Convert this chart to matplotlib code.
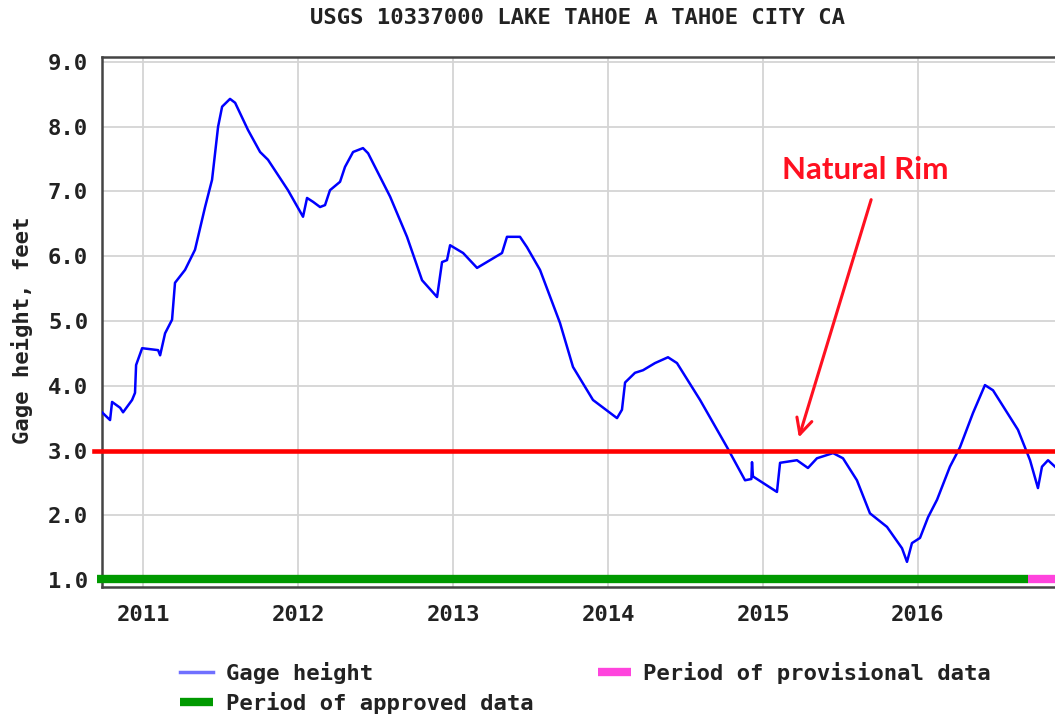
import numpy as np
import matplotlib.pyplot as plt
from matplotlib.lines import Line2D

# gage height, decimal year vs feet
years = [2010.735, 2010.787, 2010.800, 2010.852, 2010.871, 2010.929, 2010.948,
         2010.955, 2010.994, 2011.097, 2011.110, 2011.142, 2011.187, 2011.206,
         2011.271, 2011.335, 2011.400, 2011.445, 2011.484, 2011.510, 2011.561,
         2011.594, 2011.677, 2011.755, 2011.806, 2011.935, 2012.032, 2012.058,
         2012.097, 2012.142, 2012.174, 2012.206, 2012.271, 2012.303, 2012.355,
         2012.419, 2012.452, 2012.594, 2012.703, 2012.800, 2012.897, 2012.929,
         2012.961, 2012.981, 2013.065, 2013.155, 2013.239, 2013.316, 2013.348,
         2013.432, 2013.477, 2013.561, 2013.690, 2013.774, 2013.903, 2014.058,
         2014.090, 2014.110, 2014.174, 2014.226, 2014.303, 2014.387, 2014.445,
         2014.594, 2014.768, 2014.884, 2014.925, 2014.929, 2014.935, 2015.090,
         2015.110, 2015.219, 2015.290, 2015.348, 2015.452, 2015.516, 2015.606,
         2015.690, 2015.800, 2015.897, 2015.929, 2015.961, 2016.013, 2016.065,
         2016.123, 2016.206, 2016.271, 2016.355, 2016.432, 2016.484, 2016.645,
         2016.723, 2016.774, 2016.800, 2016.839, 2016.884]
gage = [3.59, 3.47, 3.75, 3.66, 3.59, 3.78, 3.89,
        4.32, 4.58, 4.55, 4.47, 4.81, 5.02, 5.59,
        5.79, 6.10, 6.76, 7.18, 8.00, 8.31, 8.43,
        8.37, 7.95, 7.61, 7.49, 7.02, 6.61, 6.90,
        6.84, 6.76, 6.79, 7.02, 7.15, 7.38, 7.61,
        7.67, 7.59, 6.92, 6.30, 5.63, 5.37, 5.91,
        5.94, 6.17, 6.05, 5.82, 5.94, 6.05, 6.30,
        6.30, 6.14, 5.79, 4.97, 4.29, 3.78, 3.50,
        3.63, 4.05, 4.20, 4.24, 4.35, 4.44, 4.35,
        3.78, 3.05, 2.54, 2.56, 2.82, 2.60, 2.36,
        2.81, 2.85, 2.73, 2.88, 2.96, 2.88, 2.54,
        2.03, 1.82, 1.49, 1.28, 1.57, 1.65, 1.97,
        2.24, 2.75, 3.05, 3.58, 4.01, 3.93, 3.32,
        2.85, 2.42, 2.75, 2.85, 2.75]

natural_rim = 3.0
approved = (2010.70, 2016.71)
provisional = (2016.71, 2016.95)
year_ticks = [2011, 2012, 2013, 2014, 2015, 2016]
height_ticks = [1, 2, 3, 4, 5, 6, 7, 8, 9]

mono = {"family": "DejaVu Sans Mono", "weight": "bold", "size": 16, "color": "#222222"}

fig = plt.figure(figsize=(10.55, 7.17), dpi=100)
ax = fig.add_axes([102 / 1055, 1 - 587 / 717, 1 - 102 / 1055, 530 / 717])
ax.set_xlim(2010.735, 2016.884)
ax.set_ylim(0.892, 9.077)

ax.grid(True, color="#d4d4d4", lw=1.3)
ax.set_axisbelow(True)
ax.set_xticks(year_ticks)
ax.set_xticklabels([str(y) for y in year_ticks], fontdict=mono)
ax.set_yticks(height_ticks)
ax.set_yticklabels([f"{v:.1f}" for v in height_ticks], fontdict=mono)
ax.tick_params(length=0, pad=10)
ax.tick_params(axis="x", pad=13)
for side in ["left", "bottom", "top"]:
    ax.spines[side].set_color("#444444")
    ax.spines[side].set_linewidth(1.8)
ax.spines["right"].set_visible(False)

ax.plot(years, gage, color="#0000ff", lw=1.8, zorder=3)
ax.axhline(natural_rim, xmin=-0.008, xmax=1, color="#ff0000", lw=3.3, clip_on=False, zorder=4)
ax.plot(approved, [1.02, 1.02], color="#009900", lw=6, solid_capstyle="butt", clip_on=False, zorder=4)
ax.plot(provisional, [1.02, 1.02], color="#ff44dd", lw=6, solid_capstyle="butt", zorder=4)

ax.text(2015.658, 7.33, "Natural Rim", color="#ff1020", fontsize=22.5,
        fontweight="bold", family="Lato", ha="center", va="center")
ax.annotate("", xy=(2015.226, 3.16), xytext=(2015.703, 6.915),
            arrowprops=dict(arrowstyle="->", color="#ff1020", lw=2.2, mutation_scale=28))

fig.text(577 / 1055, 1 - 18 / 717, "USGS 10337000 LAKE TAHOE A TAHOE CITY CA",
         ha="center", va="center", **mono)
fig.text(22 / 1055, 1 - 330 / 717, "Gage height, feet", rotation=90,
         ha="center", va="center", **mono)

handles = [Line2D([], [], color="#7070ff", lw=2.5),
           Line2D([], [], color="#009900", lw=6, solid_capstyle="butt"),
           Line2D([], [], color="#ff44dd", lw=6, solid_capstyle="butt")]
labels = ["Gage height", "Period of approved data", "Period of provisional data"]
fig.legend(handles, labels, ncol=2, frameon=False, loc="upper left",
           bbox_to_anchor=(169 / 1055, 1 - 651 / 717),
           prop={"family": "DejaVu Sans Mono", "weight": "bold", "size": 16},
           labelcolor="#222222", handlelength=1.5, handletextpad=0.55,
           labelspacing=0.35, columnspacing=2.9, borderpad=0)

fig.savefig("out.png", dpi=100)
